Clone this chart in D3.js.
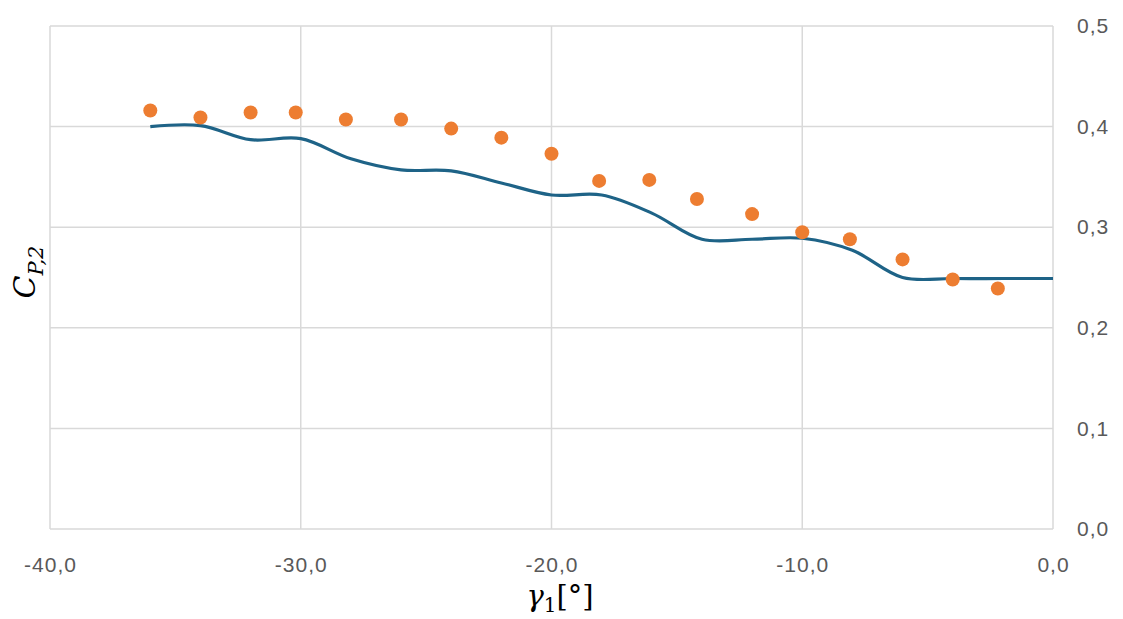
<!DOCTYPE html>
<meta charset="utf-8">
<style>
    body { margin: 0; background: #fff; }
    .axis-title { font-family: "DejaVu Serif", serif; font-style: italic; fill: #000; }
</style>
<svg id="chart" width="1123" height="619"></svg>
<script src="https://cdn.jsdelivr.net/npm/d3@7"></script>
<script>
    // measured points (orange dots)
    var dotX = [-36, -34, -32, -30.2, -28.2, -26, -24, -22, -20, -18.1, -16.1, -14.2, -12, -10, -8.1, -6, -4, -2.2];
    var dotY = [0.416, 0.409, 0.414, 0.414, 0.407, 0.407, 0.398, 0.389, 0.373, 0.346, 0.347, 0.328, 0.313, 0.295, 0.288, 0.268, 0.248, 0.239];

    // smoothed curve (blue line)
    var lineX = [-36, -34, -32, -30, -28, -26, -24, -22, -20, -18, -16, -14, -12, -10, -8, -6, -4, -2, 0];
    var lineY = [0.400, 0.401, 0.387, 0.388, 0.368, 0.357, 0.356, 0.344, 0.332, 0.332, 0.314, 0.288, 0.288, 0.289, 0.277, 0.250, 0.249, 0.249, 0.249];

    var xTicks = [-40, -30, -20, -10, 0];
    var yTicks = [0, 0.1, 0.2, 0.3, 0.4, 0.5];

    var svg = d3.select("#chart");
    var mLeft = 50, mRight = 1053, mTop = 26, mBottom = 529;

    var x = d3.scaleLinear().domain([-40, 0]).range([mLeft, mRight]);
    var y = d3.scaleLinear().domain([0, 0.5]).range([mBottom, mTop]);
    var fmt = d => d3.format(".1f")(d).replace(".", ",").replace("−", "-");

    // gridlines
    svg.append("g").selectAll("line").data(yTicks).enter().append("line")
        .attr("x1", mLeft).attr("x2", mRight)
        .attr("y1", d => y(d)).attr("y2", d => y(d))
        .style("stroke", "#d9d9d9").style("stroke-width", 1.5);
    svg.append("g").selectAll("line").data(xTicks).enter().append("line")
        .attr("x1", d => x(d)).attr("x2", d => x(d))
        .attr("y1", mTop).attr("y2", mBottom)
        .style("stroke", "#d9d9d9").style("stroke-width", 1.5);

    // axes (labels only)
    var xAxis = svg.append("g").attr("transform", "translate(0," + mBottom + ")")
        .call(d3.axisBottom(x).tickValues(xTicks).tickFormat(fmt).tickSize(0).tickPadding(28));
    xAxis.select(".domain").remove();

    var yAxis = svg.append("g").attr("transform", "translate(" + mRight + ",0)")
        .call(d3.axisRight(y).tickValues(yTicks).tickFormat(fmt).tickSize(0).tickPadding(24));
    yAxis.select(".domain").remove();

    svg.selectAll(".tick text")
        .style("font-family", "'Liberation Sans', Arial, sans-serif")
        .style("font-size", "21px")
        .style("letter-spacing", "1px")
        .style("fill", "#595959");

    // line
    var line = d3.line()
        .x((d, i) => x(lineX[i]))
        .y(d => y(d))
        .curve(d3.curveCatmullRom.alpha(0.5));
    svg.append("path")
        .datum(lineY)
        .attr("d", line)
        .style("fill", "none")
        .style("stroke", "#1e6387")
        .style("stroke-width", 3.2);

    // dots
    svg.append("g").selectAll("circle").data(dotY).enter().append("circle")
        .attr("cx", (d, i) => x(dotX[i]))
        .attr("cy", d => y(d))
        .attr("r", 7)
        .style("fill", "#ed7d31");

    // axis titles
    var xt = svg.append("text").attr("class", "axis-title")
        .attr("x", 560).attr("y", 606).attr("text-anchor", "middle")
        .style("font-size", "29px");
    xt.append("tspan").text("γ");
    xt.append("tspan").attr("dy", 6).style("font-size", "20px").style("font-style", "normal").text("1");
    xt.append("tspan").attr("dy", -6).style("font-style", "normal").text("[°]");

    var yt = svg.append("text").attr("class", "axis-title")
        .attr("transform", "translate(35,272) rotate(-90)")
        .attr("text-anchor", "middle")
        .style("font-size", "30px");
    yt.append("tspan").text("C");
    yt.append("tspan").attr("dy", 8).style("font-size", "21px").text("P,2");
</script>
